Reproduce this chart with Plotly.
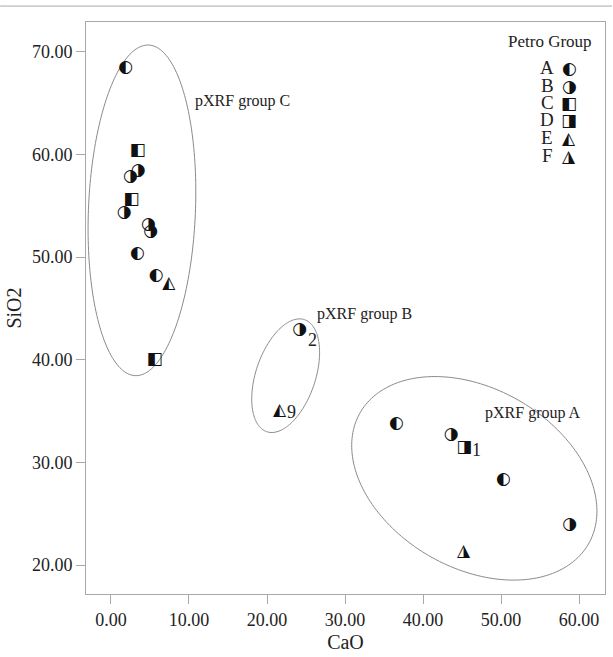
import numpy as np
import plotly.graph_objects as go

# ---------------- data ----------------
groups = ["A", "B", "C", "D", "E", "F"]
symbols = {"A": "◐", "B": "◑", "C": "◧", "D": "◨", "E": "◭", "F": "◮"}

A_cao = [1.9, 3.4, 36.6, 50.3, 5.8]
A_sio2 = [68.5, 50.3, 33.8, 28.3, 48.2]
B_cao = [3.5, 2.5, 1.7, 4.8, 5.1, 24.2, 43.6, 58.8]
B_sio2 = [58.4, 57.8, 54.3, 53.2, 52.5, 42.9, 32.7, 23.9]
C_cao = [3.45, 2.65, 5.6]
C_sio2 = [60.4, 55.6, 40.0]
D_cao = [45.3]
D_sio2 = [31.4]
E_cao = [7.4, 21.6]
E_sio2 = [47.4, 35.0]
F_cao = [45.2]
F_sio2 = [21.3]

series = {
    "A": (A_cao, A_sio2), "B": (B_cao, B_sio2), "C": (C_cao, C_sio2),
    "D": (D_cao, D_sio2), "E": (E_cao, E_sio2), "F": (F_cao, F_sio2),
}

# labelled samples
label_text = ["2", "9", "1"]
label_cao = [24.2, 21.6, 45.3]
label_sio2 = [42.9, 35.0, 31.4]
label_yshift = [-10, -1, -2]   # style: vertical offsets of the labels in px

x_ticks = [0, 10, 20, 30, 40, 50, 60]
y_ticks = [20, 30, 40, 50, 60, 70]

# ---------------- layout geometry ----------------
W, H = 613, 657
ML, MR, MT, MB = 86, 7, 22, 61
PW, PH = W - ML - MR, H - MT - MB
XR = [-3.2, 63.32]
YR = [17.18, 72.91]
PPX = PW / (XR[1] - XR[0])
PPY = PH / (YR[1] - YR[0])

SERIF = "Liberation Serif"
INK = "#222222"
FRAME = "#a8a8a8"
SYM_FONT = dict(family="DejaVu Sans", size=17, color="#111111")

fig = go.Figure()

for g in groups:
    xs, ys = series[g]
    fig.add_trace(go.Scatter(
        x=xs, y=ys, mode="text", text=[symbols[g]] * len(xs),
        textposition="middle center", textfont=SYM_FONT,
        name=g, showlegend=False, hoverinfo="x+y+name",
    ))

# numeric labels next to points
for t, cx, cy, ys in zip(label_text, label_cao, label_sio2, label_yshift):
    fig.add_annotation(x=cx, y=cy, text=t, showarrow=False, xanchor="left",
                       yanchor="middle", xshift=6, yshift=ys,
                       font=dict(family=SERIF, size=18, color=INK))

# ---------------- ellipses (pXRF groups) ----------------
# (center CaO, center SiO2, semi-major px, semi-minor px, angle deg)
ellipses = [
    (3.97, 54.56, 166, 53.6, 87.7),
    (22.39, 38.45, 59.3, 29.8, 71.4),
    (46.57, 28.45, 132, 90, -30),
]
for cx, cy, a, b, ang in ellipses:
    t = np.linspace(0, 2 * np.pi, 200)
    th = np.deg2rad(ang)
    dx = a * np.cos(t) * np.cos(th) - b * np.sin(t) * np.sin(th)
    dy = a * np.cos(t) * np.sin(th) + b * np.sin(t) * np.cos(th)
    ex = cx + dx / PPX
    ey = cy + dy / PPY
    path = "M " + " L ".join(f"{x:.4f},{y:.4f}" for x, y in zip(ex, ey)) + " Z"
    fig.add_shape(type="path", path=path, xref="x", yref="y",
                  line=dict(color="#8a8a8a", width=1), layer="below")

group_labels = [("pXRF group C", 193, 101), ("pXRF group B", 315, 315),
                ("pXRF group A", 484, 414)]
for txt, px, py in group_labels:
    fig.add_annotation(x=XR[0] + (px - ML) / PPX, y=YR[1] - (py - MT) / PPY,
                       text=txt, showarrow=False, xanchor="left", yanchor="middle",
                       font=dict(family=SERIF, size=16, color=INK))

# ---------------- manual legend ----------------
def paper(px, py):
    return (px - ML) / PW, (H - MB - py) / PH

tx, ty = paper(595, 42)
fig.add_annotation(x=tx, y=ty, xref="paper", yref="paper", text="Petro Group",
                   showarrow=False, xanchor="right", yanchor="middle",
                   font=dict(family=SERIF, size=17, color=INK))
rows_y = [68, 86, 103, 120, 138, 156]
for g, ry in zip(groups, rows_y):
    lx, ly = paper(548, ry)
    fig.add_annotation(x=lx, y=ly, xref="paper", yref="paper", text=g,
                       showarrow=False, xanchor="center", yanchor="middle",
                       font=dict(family=SERIF, size=19, color=INK))
    sx, sy = paper(570, ry)
    fig.add_annotation(x=sx, y=sy, xref="paper", yref="paper", text=symbols[g],
                       showarrow=False, xanchor="center", yanchor="middle",
                       font=SYM_FONT)

# top rule line
fig.add_shape(type="line", xref="paper", yref="paper",
              x0=-ML / PW, x1=(W - ML) / PW, y0=1 + 16 / PH, y1=1 + 16 / PH,
              line=dict(color=FRAME, width=1))

axis_common = dict(showgrid=False, zeroline=False, showline=True, mirror=True,
                   linecolor=FRAME, linewidth=1, ticks="outside", ticklen=9,
                   tickcolor=FRAME, tickformat=".2f",
                   tickfont=dict(family=SERIF, size=18, color=INK))

fig.update_layout(
    width=W, height=H, margin=dict(l=ML, r=MR, t=MT, b=MB),
    paper_bgcolor="white", plot_bgcolor="white",
    xaxis=dict(range=XR, tickvals=x_ticks,
               title=dict(text="CaO", standoff=6,
                          font=dict(family=SERIF, size=20, color=INK)),
               **axis_common),
    yaxis=dict(range=YR, tickvals=y_ticks,
               title=dict(text="SiO2", standoff=4,
                          font=dict(family=SERIF, size=20, color=INK)),
               **axis_common),
)

fig.write_html("out.html", config={"displayModeBar": False},
               post_script="document.body.style.margin='0';document.body.style.overflow='hidden';")
